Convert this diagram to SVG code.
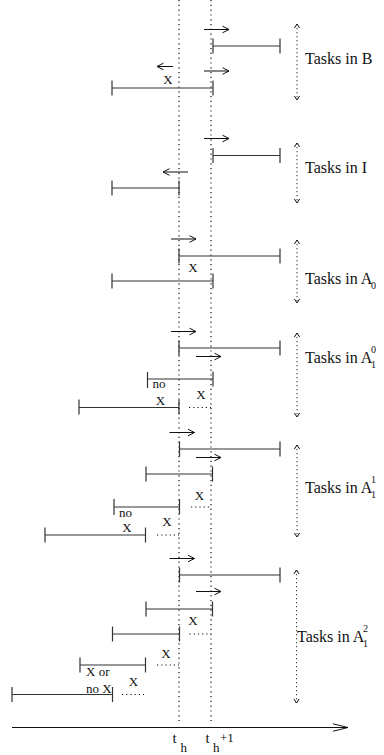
<svg xmlns="http://www.w3.org/2000/svg" width="384" height="755" viewBox="0 0 384 755">
<style>
.bar{fill:none;stroke:#333;stroke-width:1.2}
.arr{fill:none;stroke:#111;stroke-width:1;marker-end:url(#ah)}
.vd{fill:none;stroke:#111;stroke-width:1.2;stroke-dasharray:1.2,3.6}
.hd{fill:none;stroke:#111;stroke-width:1;stroke-dasharray:1.2,3}
.rd{fill:none;stroke:#444;stroke-width:1.1;stroke-dasharray:1.2,2.8;marker-start:url(#ch);marker-end:url(#ch)}
.lbl{font-family:"Liberation Serif","Times New Roman",serif;font-size:16px;fill:#111}
.sm{font-family:"Liberation Serif","Times New Roman",serif;font-size:10px;fill:#111}
.x{font-family:"Liberation Serif","Times New Roman",serif;font-size:13px;fill:#111;text-anchor:middle}
.n{font-family:"Liberation Serif","Times New Roman",serif;font-size:13px;fill:#111}
.ax{font-family:"Liberation Serif","Times New Roman",serif;font-size:15px;fill:#111}
.axs{font-family:"Liberation Serif","Times New Roman",serif;font-size:13px;fill:#111}
</style>
<defs>
<marker id="ah" markerUnits="userSpaceOnUse" viewBox="-8 -5 10 10" refX="0" refY="0" markerWidth="10" markerHeight="10" orient="auto">
<path d="M-6.5,-3.3 L0,0 L-6.5,3.3" fill="none" stroke="#111" stroke-width="1"/>
</marker>
<marker id="ch" markerUnits="userSpaceOnUse" viewBox="-6 -5 8 10" refX="0" refY="0" markerWidth="8" markerHeight="10" orient="auto-start-reverse">
<path d="M-4,-2.6 L0,0 L-4,2.6" fill="none" stroke="#111" stroke-width="1"/>
</marker>
<marker id="axh" markerUnits="userSpaceOnUse" viewBox="-17 -5 19 10" refX="0" refY="0" markerWidth="19" markerHeight="10" orient="auto">
<path d="M-15,-3.7 L0,0 L-15,3.7" fill="none" stroke="#111" stroke-width="1"/>
</marker>
</defs>

<g id="axis">
<line x1="12" y1="727.5" x2="348" y2="727.5" stroke="#111" stroke-width="1.2" marker-end="url(#axh)"/>
<line class="vd" x1="179" y1="0" x2="179" y2="721"/>
<line class="vd" x1="211" y1="0" x2="211" y2="721"/>
<text class="ax" x="172.5" y="743">t</text>
<text class="axs" x="180.5" y="751.5">h</text>
<text class="ax" x="205.5" y="743">t</text>
<text class="axs" x="213" y="751.5">h</text>
<text class="axs" x="220" y="741.5">+1</text>
</g>

<g id="connectors">
<!-- group B -->
<line class="arr" x1="204" y1="29.5" x2="229" y2="29.5"/>
<line class="arr" x1="173" y1="66.5" x2="157" y2="66.5"/>
<line class="arr" x1="204" y1="71" x2="229" y2="71"/>
<line class="rd" x1="297" y1="24" x2="297" y2="100"/>
<!-- group I -->
<line class="arr" x1="204" y1="138.5" x2="229" y2="138.5"/>
<line class="arr" x1="188" y1="172" x2="163" y2="172"/>
<line class="rd" x1="297" y1="143" x2="297" y2="203"/>
<!-- group A0 -->
<line class="arr" x1="171" y1="239" x2="196" y2="239"/>
<line class="rd" x1="297" y1="240" x2="297" y2="303"/>
<!-- group A1^0 -->
<line class="arr" x1="171" y1="331.5" x2="196" y2="331.5"/>
<line class="arr" x1="196" y1="356.5" x2="221" y2="356.5"/>
<line class="hd" x1="189" y1="407.5" x2="211" y2="407.5"/>
<line class="rd" x1="297" y1="333" x2="297" y2="417"/>
<!-- group A1^1 -->
<line class="arr" x1="169.5" y1="432.5" x2="194.5" y2="432.5"/>
<line class="arr" x1="196" y1="457.5" x2="221" y2="457.5"/>
<line class="hd" x1="191" y1="507" x2="212" y2="507"/>
<line class="hd" x1="157" y1="535" x2="179" y2="535"/>
<line class="rd" x1="297" y1="445" x2="297" y2="537"/>
<!-- group A1^2 -->
<line class="arr" x1="169.5" y1="558.5" x2="194.5" y2="558.5"/>
<line class="arr" x1="196" y1="591.5" x2="221" y2="591.5"/>
<line class="hd" x1="189.5" y1="634" x2="211" y2="634"/>
<line class="hd" x1="157" y1="665" x2="179" y2="665"/>
<line class="hd" x1="122" y1="694.5" x2="144" y2="694.5"/>
<line class="rd" x1="296.5" y1="570" x2="296.5" y2="703"/>
</g>

<g id="groupB">
<path class="bar" d="M213,38.5V53.5M213,46H280M280,38.5V53.5"/>
<path class="bar" d="M112,80.5V95.5M112,88H213M213,80.5V95.5"/>
<text class="x" x="168" y="83.5">X</text>
<text class="lbl" x="305" y="64">Tasks in B</text>
</g>

<g id="groupI">
<path class="bar" d="M213,148V163M213,155.5H280M280,148V163"/>
<path class="bar" d="M112,180.5V195.5M112,188H179M179,180.5V195.5"/>
<text class="lbl" x="305" y="173">Tasks in I</text>
</g>

<g id="groupA0">
<path class="bar" d="M179,248.5V263.5M179,256H280M280,248.5V263.5"/>
<path class="bar" d="M112,273.5V288.5M112,281H213M213,273.5V288.5"/>
<text class="x" x="193" y="272">X</text>
<text class="lbl" x="305" y="284">Tasks in A</text>
<text class="sm" x="371" y="289">0</text>
</g>

<g id="groupA1_0">
<path class="bar" d="M179,340.5V355.5M179,348H280M280,340.5V355.5"/>
<path class="bar" d="M147.5,372V388M147.5,379H213M213,371.5V386.5"/>
<text class="n" x="152.5" y="388">no</text>
<text class="x" x="201" y="399">X</text>
<path class="bar" d="M79,399.5V414.5M79,407.5H179M179,399.5V414.5"/>
<text class="x" x="160.5" y="405">X</text>
<text class="lbl" x="305" y="363">Tasks in A</text>
<text class="sm" x="371" y="353">0</text>
<text class="sm" x="371" y="368">1</text>
</g>

<g id="groupA1_1">
<path class="bar" d="M179.5,441.5V456.5M179.5,449H280M280,441.5V456.5"/>
<path class="bar" d="M146,466.5V481.5M146,474H212.5M212.5,466.5V481.5"/>
<text class="x" x="199.5" y="500">X</text>
<path class="bar" d="M114,499V515M114,507H179.5M179.5,499V514"/>
<text class="n" x="119" y="517">no</text>
<text class="x" x="167" y="526">X</text>
<text class="x" x="127" y="532">X</text>
<path class="bar" d="M45,527.5V542.5M45,535H145.5M145.5,527.5V542.5"/>
<text class="lbl" x="305" y="493">Tasks in A</text>
<text class="sm" x="371" y="483">1</text>
<text class="sm" x="371" y="498">1</text>
</g>

<g id="groupA1_2">
<path class="bar" d="M179.5,567.5V582.5M179.5,575H280M280,567.5V582.5"/>
<path class="bar" d="M146,601.5V616.5M146,609H212.5M212.5,601.5V616.5"/>
<text class="x" x="193" y="625">X</text>
<path class="bar" d="M112.5,626.5V641.5M112.5,634H179.5M179.5,626.5V641.5"/>
<text class="x" x="166" y="658">X</text>
<path class="bar" d="M80,657.5V672.5M80,665H145.5M145.5,657.5V672.5"/>
<text class="n" x="86" y="676">X or</text>
<text class="x" x="133.5" y="686">X</text>
<path class="bar" d="M12,687V702M12,694.5H112.5M112.5,687V702"/>
<text class="n" x="86" y="693">no X</text>
<text class="lbl" x="297" y="642">Tasks in A</text>
<text class="sm" x="363" y="632">2</text>
<text class="sm" x="363" y="647">1</text>
</g>
</svg>
